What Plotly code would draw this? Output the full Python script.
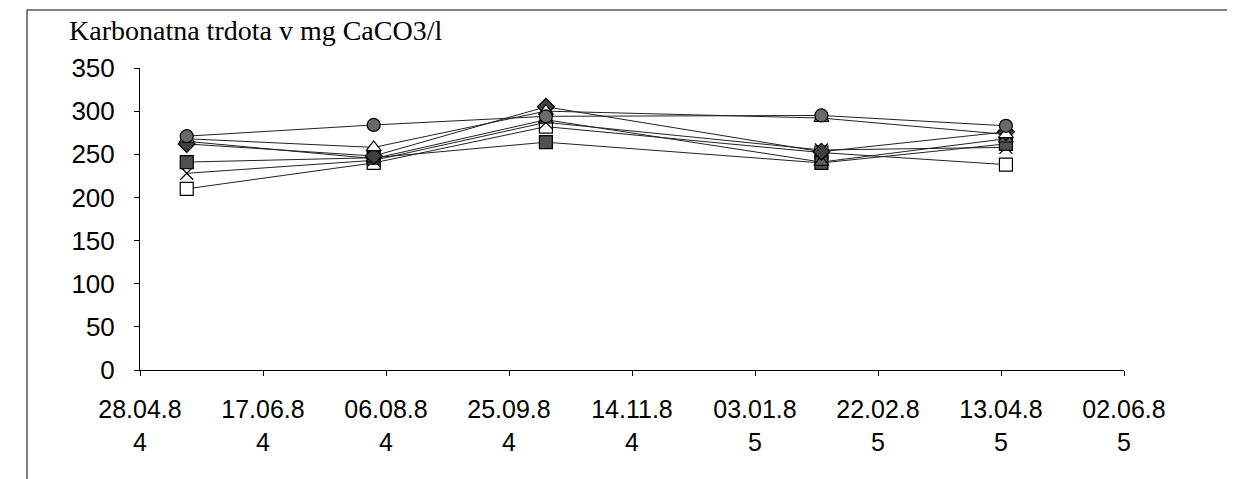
import plotly.graph_objects as go

dates = ["1984-05-17", "1984-08-01", "1984-10-10", "1985-01-30", "1985-04-15"]
s_circle = [271, 284, 294, 295, 283]
s_tri_open = [268, 258, 300, 292, 273]
s_diamond = [262, 248, 305, 253, 276]
s_square = [241, 246, 264, 240, 262]
s_x = [228, 243, 287, 255, 258]
s_square_open = [210, 240, 282, 252, 238]
s_tri = [265, 245, 290, 241, 268]

tick_dates = ["1984-04-28", "1984-06-17", "1984-08-06", "1984-09-25", "1984-11-14",
              "1985-01-03", "1985-02-22", "1985-04-13", "1985-06-02"]
tick_text = ["28.04.8<br>4", "17.06.8<br>4", "06.08.8<br>4", "25.09.8<br>4", "14.11.8<br>4",
             "03.01.8<br>5", "22.02.8<br>5", "13.04.8<br>5", "02.06.8<br>5"]
y_ticks = [0, 50, 100, 150, 200, 250, 300, 350]

series = [
    (s_square_open, "square", "white"),
    (s_x, "x-thin", "white"),
    (s_square, "square", "#505050"),
    (s_tri, "triangle-up", "#606060"),
    (s_diamond, "diamond", "#404040"),
    (s_tri_open, "triangle-up", "white"),
    (s_circle, "circle", "#6a6a6a"),
]

fig = go.Figure()
for vals, sym, fill in series:
    fig.add_trace(go.Scatter(
        x=dates, y=vals, mode="lines+markers",
        line=dict(color="#222222", width=1),
        marker=dict(symbol=sym, size=13, color=fill,
                    line=dict(color="black", width=1.2)),
        showlegend=False,
    ))

W, H = 1235, 479
L, R, T, B = 132, 119, 60, 117
fig.update_layout(
    width=W, height=H,
    margin=dict(l=L, r=R, t=T, b=B),
    paper_bgcolor="white", plot_bgcolor="white",
    font=dict(family="Liberation Sans, Arial, sans-serif", color="black"),
)
fig.update_xaxes(
    type="date", range=["1984-04-28", "1985-06-02"],
    tickvals=tick_dates, ticktext=tick_text,
    showgrid=False, zeroline=False,
    showline=True, linecolor="black", linewidth=1,
    ticks="outside", ticklen=5, tickcolor="black",
    tickfont=dict(size=25), ticklabelstandoff=12,
)
fig.update_yaxes(
    range=[0, 350], tickvals=y_ticks,
    showgrid=False, zeroline=False,
    showline=True, linecolor="black", linewidth=1,
    ticks="outside", ticklen=5, tickcolor="black",
    tickfont=dict(size=26), ticklabelstandoff=14,
)

pw = W - L - R
ph = H - T - B
def px(x):
    return (x - L) / pw
def py(y):
    return (H - B - y) / ph

fig.add_annotation(
    text="Karbonatna trdota v mg CaCO3/l", xref="paper", yref="paper",
    x=px(59), y=py(22), xanchor="left", yanchor="middle", showarrow=False,
    font=dict(family="Liberation Serif, Times New Roman, serif", size=28, color="black"),
)
fig.add_shape(type="rect", xref="paper", yref="paper",
              x0=px(19), x1=px(1222), y0=py(520), y1=py(2),
              line=dict(color="black", width=1))

fig.write_html("out.html")
